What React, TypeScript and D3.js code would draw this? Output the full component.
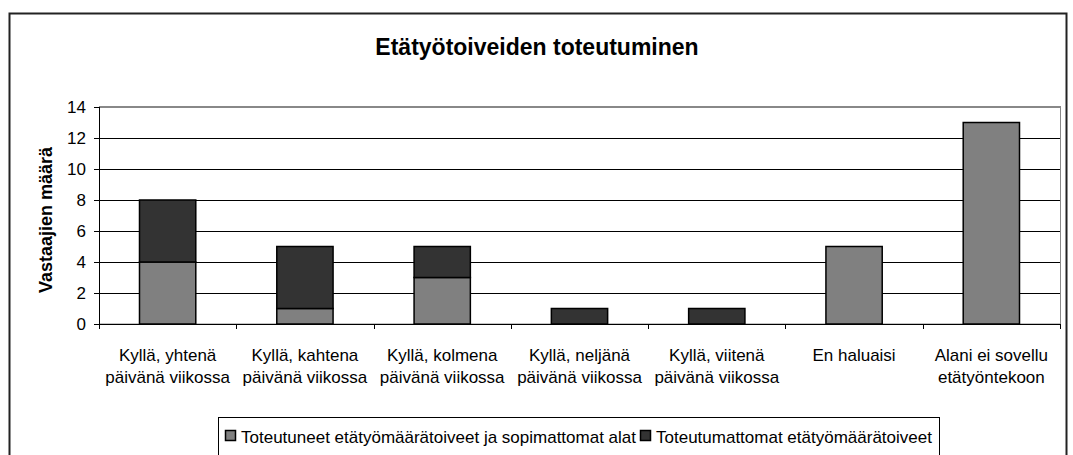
import React from "react";
import * as d3 from "d3";

const categories: string[][] = [
  ["Kyllä, yhtenä", "päivänä viikossa"],
  ["Kyllä, kahtena", "päivänä viikossa"],
  ["Kyllä, kolmena", "päivänä viikossa"],
  ["Kyllä, neljänä", "päivänä viikossa"],
  ["Kyllä, viitenä", "päivänä viikossa"],
  ["En haluaisi"],
  ["Alani ei sovellu", "etätyöntekoon"],
];
const realized: number[] = [4, 1, 3, 0, 0, 5, 13];
const unrealized: number[] = [4, 4, 2, 1, 1, 0, 0];
const seriesNames: string[] = [
  "Toteutuneet etätyömäärätoiveet ja sopimattomat alat",
  "Toteutumattomat etätyömäärätoiveet",
];
const yTicks: number[] = [0, 2, 4, 6, 8, 10, 12, 14];
const title = "Etätyötoiveiden toteutuminen";
const yTitle = "Vastaajien määrä";

const colors = ["#808080", "#333333"];
const FONT = "Arial, 'Liberation Sans', sans-serif";

export default function App() {
  const W = 1073, H = 455;
  const left = 99, right = 1060, top = 107, bottom = 324;
  const x = d3.scaleBand<number>().domain(d3.range(categories.length)).range([left, right]).padding(0);
  const y = d3.scaleLinear().domain([0, 14]).range([bottom, top]);
  const barW = x.bandwidth() * 0.41;

  const stacked = d3.stack<number>().keys(["a", "b"] as any).value((i: number, k: string) => (k === "a" ? realized[i] : unrealized[i]))(d3.range(categories.length) as any);

  return (
    <svg width={W} height={H} style={{ position: "absolute", left: 0, top: 0, background: "#fff" }} fontFamily={FONT}>
      <rect x={0} y={0} width={W} height={H} fill="#fff" />
      <rect x={9.5} y={13.5} width={1057} height={460} fill="none" stroke="#222" strokeWidth={2} />
      <text x={537} y={55} textAnchor="middle" fontWeight="bold" fontSize={23} fill="#000">{title}</text>
      {/* plot border */}
      <rect x={left + 0.5} y={top - 0.5} width={right - left} height={bottom - top + 0.5} fill="none" stroke="#888" strokeWidth={1} />
      {yTicks.map((t) => (
        <g key={t}>
          <line x1={left - 5} x2={right} y1={Math.round(y(t)) + 0.5} y2={Math.round(y(t)) + 0.5} stroke={t === 14 ? "#888" : "#000"} strokeWidth={1} />
          <line x1={left - 5} x2={left} y1={Math.round(y(t)) + 0.5} y2={Math.round(y(t)) + 0.5} stroke="#000" />
          <text x={86} y={y(t) + 6} textAnchor="end" fontSize={17} fill="#000">{t}</text>
        </g>
      ))}
      <line x1={left + 0.5} x2={left + 0.5} y1={top} y2={bottom} stroke="#000" />
      {d3.range(categories.length + 1).map((i) => {
        const xx = Math.round(left + i * x.step()) + 0.5;
        return <line key={i} x1={xx} x2={xx} y1={bottom} y2={bottom + 5} stroke="#000" />;
      })}
      {stacked.map((s, si) =>
        s.map((d, i) => {
          if (d[1] - d[0] <= 0) return null;
          const cx = (x(i) as number) + x.bandwidth() / 2;
          return (
            <rect key={si + "-" + i} x={cx - barW / 2} y={y(d[1])} width={barW} height={y(d[0]) - y(d[1])} fill={colors[si]} stroke="#000" strokeWidth={1.5} />
          );
        })
      )}
      {categories.map((lines, i) => {
        const cx = (x(i) as number) + x.bandwidth() / 2;
        return (
          <text key={i} x={cx} textAnchor="middle" fontSize={17} fill="#000">
            {lines.map((l, j) => (
              <tspan key={j} x={cx} y={361 + j * 22}>{l}</tspan>
            ))}
          </text>
        );
      })}
      <text transform={`translate(52,220) rotate(-90)`} textAnchor="middle" fontWeight="bold" fontSize={18} fill="#000">{yTitle}</text>
      {/* legend */}
      <rect x={218.5} y={417.5} width={721} height={60} fill="#fff" stroke="#000" />
      <rect x={225.5} y={430.5} width={10} height={10} fill={colors[0]} stroke="#000" strokeWidth={1.5} />
      <text x={241} y={443} fontSize={17} fill="#000">{seriesNames[0]}</text>
      <rect x={640.5} y={430.5} width={10} height={10} fill={colors[1]} stroke="#000" strokeWidth={1.5} />
      <text x={656} y={443} fontSize={17} fill="#000">{seriesNames[1]}</text>
    </svg>
  );
}
